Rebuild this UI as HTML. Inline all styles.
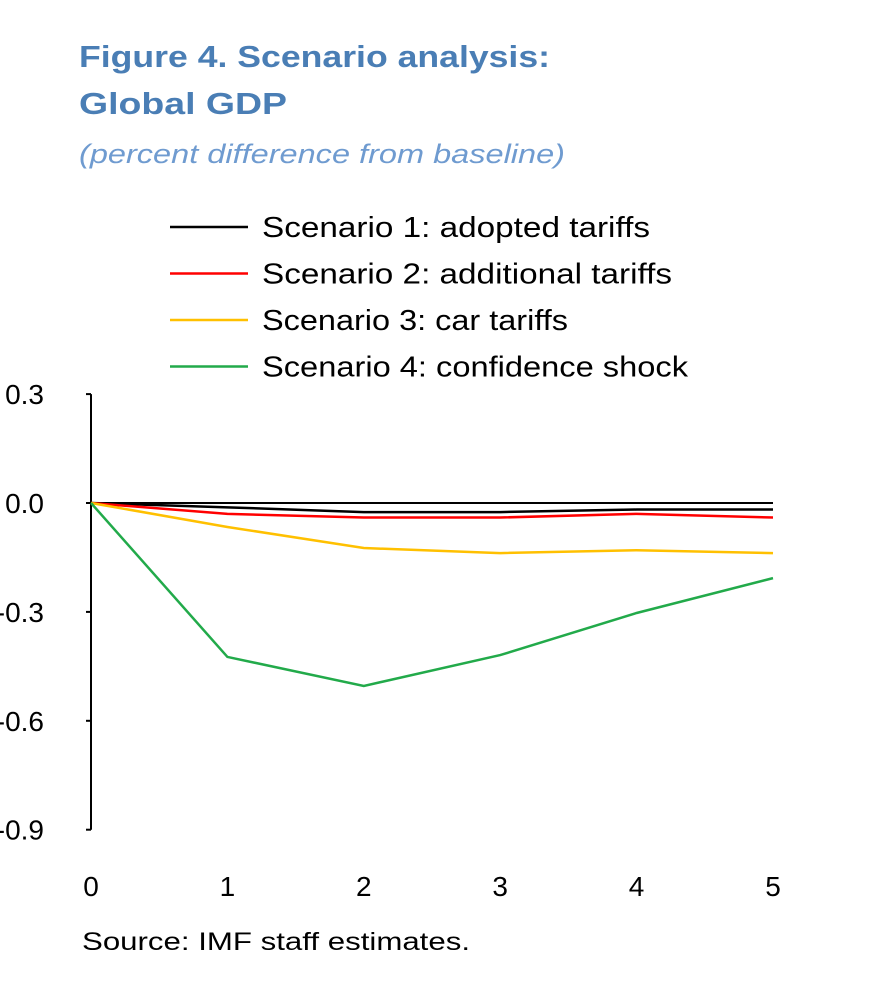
<!DOCTYPE html>
<html><head><meta charset="utf-8"><style>
body{margin:0;background:#fff;width:888px;height:992px;overflow:hidden;font-family:"Liberation Sans",sans-serif}
</style></head><body>
<svg width="888" height="992" font-family="Liberation Sans, sans-serif">
<text x="79" y="67" font-size="31" font-weight="bold" fill="#4a7eb5" textLength="471" lengthAdjust="spacingAndGlyphs">Figure 4. Scenario analysis:</text>
<text x="79" y="114" font-size="31" font-weight="bold" fill="#4a7eb5" textLength="208" lengthAdjust="spacingAndGlyphs">Global GDP</text>
<text x="79" y="163" font-size="27" font-style="italic" fill="#6f9bd0" textLength="486" lengthAdjust="spacingAndGlyphs">(percent difference from baseline)</text>
<g id="legend"></g>
<g id="axes"></g>
<g id="series"></g>
<text x="82" y="950" font-size="25" fill="#000" textLength="388" lengthAdjust="spacingAndGlyphs">Source: IMF staff estimates.</text>
</svg>
<script>
const categories=[0,1,2,3,4,5];
const yTicks=[0.3,0,-0.3,-0.6,-0.9];
const yTickLabels=["0.3","0.0","-0.3","-0.6","-0.9"];
const seriesNames=["Scenario 1: adopted tariffs","Scenario 2: additional tariffs","Scenario 3: car tariffs","Scenario 4: confidence shock"];
const legendWidths=[388,410,306,426];
const seriesColors=["#000000","#ff0000","#ffc000","#22aa4a"];
const s1=[0,-0.012,-0.025,-0.025,-0.018,-0.018];
const s2=[0,-0.03,-0.04,-0.04,-0.03,-0.04];
const s3=[0,-0.066,-0.124,-0.138,-0.13,-0.138];
const s4=[0,-0.424,-0.504,-0.419,-0.303,-0.207];
const allSeries=[s1,s2,s3,s4];
const NS="http://www.w3.org/2000/svg";
function X(v){return 91+v*136.4;}
function Y(v){return 503-v*363;}
function mk(tag,attrs,parent){const e=document.createElementNS(NS,tag);for(const k in attrs)e.setAttribute(k,attrs[k]);parent.appendChild(e);return e;}
const axes=document.getElementById('axes');
let ya=mk('line',{x1:91,y1:Y(0.3),x2:91,y2:Y(-0.9),stroke:'#000','stroke-width':2},axes);


let za=mk('line',{x1:91,y1:Y(0),x2:X(5),y2:Y(0),stroke:'#000','stroke-width':2},axes);


yTicks.forEach((t,i)=>{
 let tk=mk('line',{x1:86,y1:Y(t),x2:91,y2:Y(t),stroke:'#000','stroke-width':2},axes);
 
 
 let tx=mk('text',{x:44,y:Y(t)+10,'font-size':28,'text-anchor':'end'},axes);
 tx.textContent=yTickLabels[i];
 
 
});
categories.forEach(c=>{
 let tx=mk('text',{x:X(c),y:896,'font-size':28,'text-anchor':'middle'},axes);
 tx.textContent=String(c);
 
 
});
const sg=document.getElementById('series');
allSeries.forEach((s,i)=>{
 let p=mk('polyline',{points:s.map((v,j)=>X(categories[j])+','+Y(v)).join(' '),fill:'none',stroke:seriesColors[i],'stroke-width':2.5},sg);
 
 
});
const lg=document.getElementById('legend');
seriesNames.forEach((n,i)=>{
 const y=227+i*46.5;
 let l=mk('line',{x1:170,y1:y,x2:248,y2:y,stroke:seriesColors[i],'stroke-width':2.5},lg);
 
 
 let t=mk('text',{x:262,y:y+10,'font-size':29,textLength:legendWidths[i],lengthAdjust:'spacingAndGlyphs'},lg);
 t.textContent=n;
 
 
});
</script>
</body></html>
